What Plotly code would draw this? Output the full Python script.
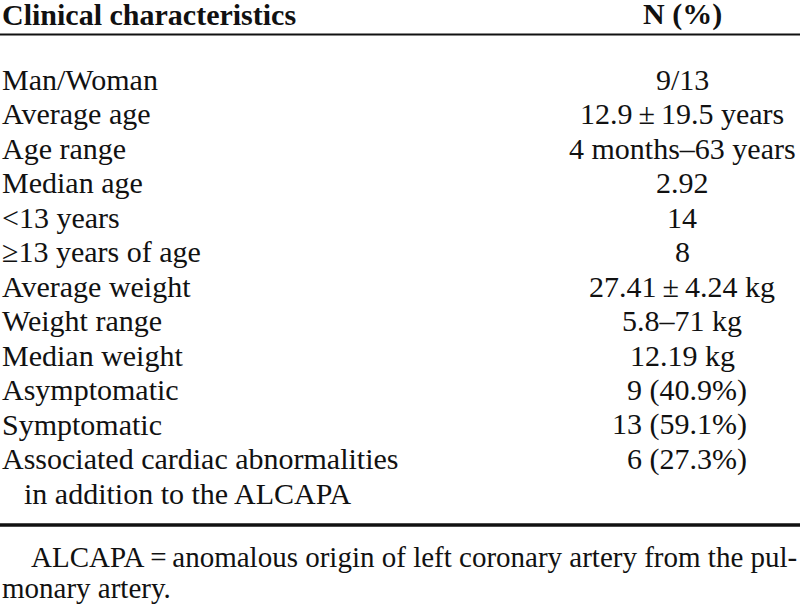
import plotly.graph_objects as go

header_left = "Clinical characteristics"
header_right = "N (%)"
characteristics = [
    "Man/Woman", "Average age", "Age range", "Median age", "<13 years",
    "≥13 years of age", "Average weight", "Weight range", "Median weight",
    "Asymptomatic", "Symptomatic", "Associated cardiac abnormalities",
    "in addition to the ALCAPA",
]
values = [
    "9/13", "12.9\u2009±\u200919.5 years", "4 months–63 years", "2.92", "14",
    "8", "27.41\u2009±\u20094.24 kg", "5.8–71 kg", "12.19 kg",
    "9 (40.9%)", "13 (59.1%)", "6 (27.3%)", "",
]
footnote = [
    "ALCAPA\u2009=\u2009anomalous origin of left coronary artery from the pul-",
    "monary artery.",
]

W, H = 800, 604
FONT = "Liberation Serif, Times New Roman, serif"
FS = 30
row0 = 79
pitch = 34.5
col_right = 682

fig = go.Figure()
fig.add_trace(go.Scatter(x=[0, W], y=[0, H], mode="markers",
                         marker=dict(opacity=0), hoverinfo="skip", showlegend=False))

ann = []
ann.append(dict(x=0, y=14, text=f"<b>{header_left}</b>", xanchor="left", yanchor="middle", size=FS))
ann.append(dict(x=col_right, y=14, text=f"<b>{header_right}</b>", xanchor="center", yanchor="middle", size=FS))
for i, (c, v) in enumerate(zip(characteristics, values)):
    y = row0 + pitch * i
    indent = 22 if c.startswith("in addition") else 0
    ann.append(dict(x=indent, y=y, text=c, xanchor="left", yanchor="middle", size=FS))
    if v:
        if "%" in v:
            ann.append(dict(x=749, y=y, text=v, xanchor="right", yanchor="middle", size=FS))
        else:
            ann.append(dict(x=col_right, y=y, text=v, xanchor="center", yanchor="middle", size=FS))
ann.append(dict(x=799, y=557, text=footnote[0], xanchor="right", yanchor="middle", size=29))
ann.append(dict(x=0, y=588, text=footnote[1], xanchor="left", yanchor="middle", size=29))
for a in ann:
    s = a.pop("size")
    a.update(xref="x", yref="y", showarrow=False,
             font=dict(family=FONT, size=s, color="#111111"))

fig.update_layout(
    annotations=ann,
    shapes=[
        dict(type="line", xref="x", yref="y", x0=0, x1=W, y0=34.5, y1=34.5,
             line=dict(color="#111111", width=2)),
        dict(type="line", xref="x", yref="y", x0=0, x1=W, y0=525, y1=525,
             line=dict(color="#111111", width=3.5)),
    ],
    width=W, height=H,
    margin=dict(l=0, r=0, t=0, b=0),
    paper_bgcolor="white", plot_bgcolor="white",
    xaxis=dict(range=[0, W], visible=False, fixedrange=True),
    yaxis=dict(range=[H, 0], visible=False, fixedrange=True),
)
fig.write_html("out.html", config={"displayModeBar": False},
               post_script="document.body.style.margin='0';document.body.style.overflow='hidden';")
